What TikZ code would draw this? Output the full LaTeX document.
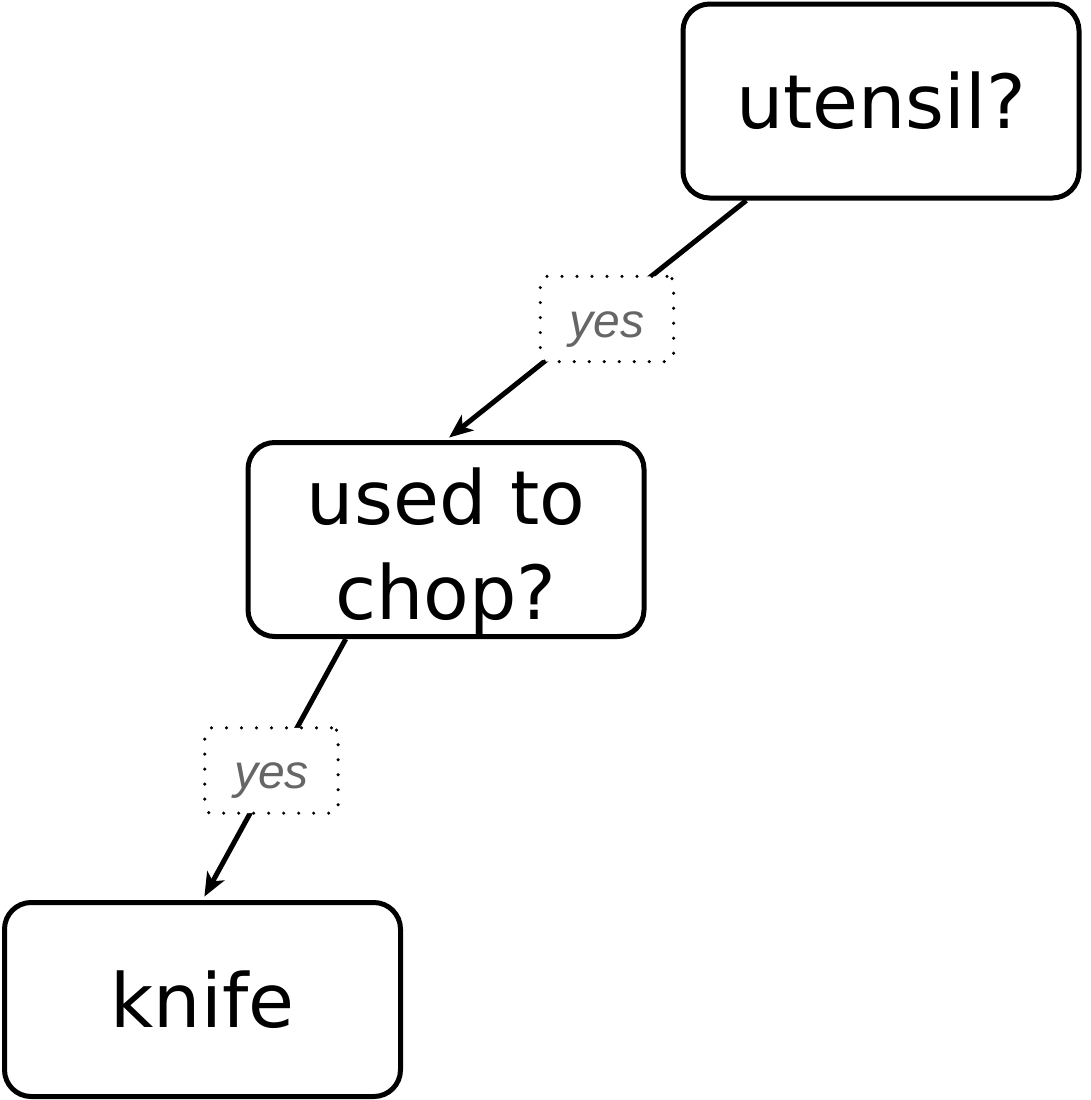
\documentclass[tikz,border=0pt]{standalone}
\usepackage{fontspec}
\setmainfont{DejaVu Sans}
\newfontfamily\labelfont{Liberation Sans}
\usetikzlibrary{arrows.meta,calc}
\definecolor{textgray}{HTML}{666666}
\begin{document}
\begin{tikzpicture}[x=0.75pt,y=-0.75pt,
  qbox/.style={draw=black, line width=3.75pt, rounded corners=20pt,
    minimum width=297pt, minimum height=145.5pt, inner sep=0pt,
    font=\fontsize{56}{71}\selectfont, align=center, fill=white},
  ylabel/.style={draw=black, line width=2.6pt, dash pattern=on 0pt off 11.25pt,
    line cap=round, rounded corners=5pt, minimum width=100pt, minimum height=64pt,
    fill=white, inner sep=0pt, text=textgray,
    font=\labelfont\itshape\fontsize{36}{43}\selectfont,
    text height=30pt, text depth=3pt},
  conn/.style={line width=3.75pt,
    -{Stealth[length=18pt,width=15pt,inset=5pt,fill=black,line width=1pt]},
    shorten >=3pt}
]
\useasboundingbox (0,0) rectangle (1090,1100);
\node[qbox] (u) at (881,101) {utensil?};
\node[qbox, text height=127.5pt, text depth=7.5pt] (c) at (446,539.5) {used to\\chop?};
\node[qbox] (k) at (202.5,999.5) {knife};
\draw[conn] ($(u.south west)!0.164!(u.south east)$) -- (c.north);
\draw[conn] ($(c.south west)!0.25!(c.south east)$) -- (k.north);
\node[ylabel] (y1) at (607,319) {yes};
\node[ylabel] (y2) at (271.5,770.5) {yes};
\end{tikzpicture}
\end{document}
